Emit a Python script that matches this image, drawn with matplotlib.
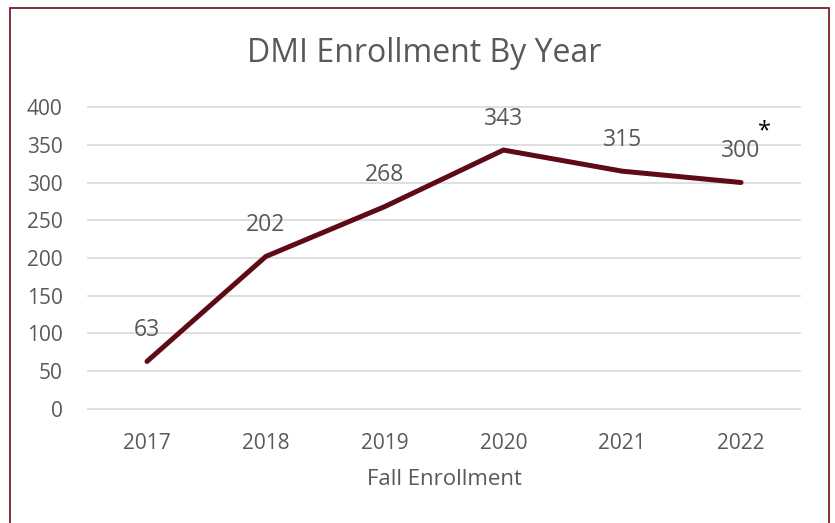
import matplotlib.pyplot as plt
from matplotlib.patches import Rectangle

# donnees
years = ["2017", "2018", "2019", "2020", "2021", "2022"]
enrollment = [63, 202, 268, 343, 315, 300]
yticks = [0, 50, 100, 150, 200, 250, 300, 350, 400]

plt.rcParams['font.family'] = ['Open Sans', 'DejaVu Sans']
gris = "#595959"
bordeaux = "#5e0b16"

fig = plt.figure(figsize=(8.35, 5.23), dpi=100)
ax = fig.add_axes([0.1049, 0.218, 0.8537, 0.5774])

x = range(len(years))
ax.plot(x, enrollment, color=bordeaux, lw=3.6, solid_capstyle='round', zorder=3)

for i, v in enumerate(enrollment):
    ax.annotate(str(v), (i, v), xytext=(0, 22.5), textcoords="offset points",
                ha="center", va="center", fontsize=16.5, color=gris)
# asterisque sur la derniere annee
ax.annotate("*", (len(years) - 1, enrollment[-1]), xytext=(17, 37), textcoords="offset points",
            ha="center", va="center", fontsize=17, color="black")

ax.set_xlim(-0.5, len(years) - 0.5)
ax.set_ylim(0, 400)
ax.set_yticks(yticks)
ax.set_xticks(list(x))
ax.set_xticklabels(years)
ax.grid(axis="y", color="#d9d9d9", lw=1.2)
for gl in ax.get_ygridlines():
    gl.set_clip_on(False)
ax.set_axisbelow(True)
for s in ax.spines.values():
    s.set_visible(False)
ax.tick_params(length=0, labelsize=15, colors=gris, pad=17)
ax.tick_params(axis="y", pad=18)
ax.set_xlabel("Fall Enrollment", fontsize=16, color=gris, labelpad=11)

fig.text(0.5085, 0.897, "DMI Enrollment By Year", ha="center", va="center", fontsize=23, color=gris)

# cadre
fig.patches.append(Rectangle((10 / 835, -0.05), 819 / 835, 1.05 - 8 / 523, transform=fig.transFigure,
                             fill=False, edgecolor="#7a1f2a", lw=1.3))

fig.savefig("out.png", dpi=100)
